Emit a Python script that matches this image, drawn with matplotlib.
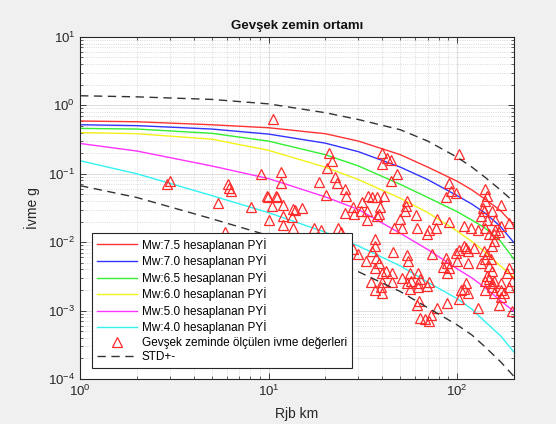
import numpy as np
import matplotlib
matplotlib.use('Agg')
import matplotlib.pyplot as plt
from matplotlib.ticker import LogLocator, LogFormatterMathtext, NullFormatter

plt.rcParams['font.family'] = ['Liberation Sans', 'DejaVu Sans']
plt.rcParams['mathtext.fontset'] = 'custom'
plt.rcParams['mathtext.rm'] = 'Liberation Sans'
plt.rcParams['mathtext.it'] = 'Liberation Sans'

# mesafe noktalari (km)
rjb = [1, 2, 5, 10, 20, 30, 50, 70, 100, 120, 140, 170, 200]

# hesaplanan PYI egrileri (g)
pga_75 = [0.59, 0.575, 0.52, 0.47, 0.385, 0.30, 0.19, 0.125, 0.078, 0.058, 0.043, 0.029, 0.018]
pga_70 = [0.52, 0.505, 0.45, 0.38, 0.28, 0.21, 0.125, 0.082, 0.048, 0.036, 0.027, 0.017, 0.0099]
pga_65 = [0.46, 0.45, 0.39, 0.30, 0.19, 0.13, 0.07, 0.045, 0.028, 0.021, 0.0163, 0.0104, 0.0057]
pga_60 = [0.40, 0.385, 0.32, 0.22, 0.125, 0.082, 0.044, 0.027, 0.0146, 0.0102, 0.0073, 0.0045, 0.0031]
pga_50 = [0.277, 0.215, 0.13, 0.085, 0.046, 0.030, 0.0135, 0.0078, 0.0041, 0.0030, 0.0022, 0.0014, 0.00098]
pga_40 = [0.155, 0.10, 0.048, 0.027, 0.014, 0.0088, 0.0045, 0.0026, 0.0015, 0.00105, 0.0007, 0.00043, 0.00025]
std_ust = [1.38, 1.33, 1.22, 1.05, 0.78, 0.62, 0.44, 0.30, 0.175, 0.125, 0.090, 0.058, 0.039]
std_alt = [0.067, 0.045, 0.022, 0.0125, 0.0062, 0.0037, 0.0019, 0.0011, 0.00062, 0.00044, 0.0003, 0.00018, 0.00011]

# olculen ivme degerleri
rjb_obs = [2.9, 3.0, 6.1, 6.2, 6.3, 5.4, 9.1, 10.6, 11.6, 11.7, 9.8, 10.9, 8.1, 10.4, 11.9,
           13.5, 10.0, 11.9, 13.5, 5.9, 9.9, 11.1, 13.8, 15.1, 11.9, 13.3, 17.5, 18.9,
           21, 21.7, 20.5, 18.6, 22.6, 23.1, 25.3, 25.9, 20.3, 28, 31.3, 31, 33.6, 35.3,
           37.5, 40.9, 33.2, 39, 37.5, 40, 42.5, 44.6, 40, 48, 44.6, 23.4, 24.3, 25.3,
           28.5, 33.2, 38.6, 46.5, 51, 53.6, 54, 53, 60.7, 50, 78, 91, 109, 61, 71, 77,
           69, 119, 130, 140, 157, 189,
           102, 91, 93, 99, 87, 140, 144, 140, 171, 153, 139, 134, 144, 160, 171, 137,
           160, 167,
           147, 157, 153, 144, 151, 147, 153, 144, 140, 153, 195, 189, 184, 172, 171,
           109, 111, 105, 114, 102, 88, 78, 63, 130, 167, 195, 64, 68, 73, 71, 61,
           46, 54, 55, 74, 87, 89, 91, 99, 102, 109, 112, 115, 123, 100, 114, 139, 140,
           147, 157, 134, 140, 153, 157, 189, 177, 172, 89, 71, 62, 64, 54, 56, 62, 45,
           51, 40, 40, 39.5, 45, 84, 57, 62, 69, 56,
           28, 30, 36.5, 36.5, 35.3, 37, 33, 36.5, 38.6, 35, 36.5, 40, 42]
pga_obs = [0.072, 0.079, 0.072, 0.062, 0.056, 0.038, 0.10, 0.63, 0.107, 0.074, 0.048, 0.048,
           0.033, 0.034, 0.035, 0.031, 0.021, 0.018, 0.016, 0.014, 0.046, 0.045, 0.030,
           0.032, 0.024, 0.023, 0.016, 0.015,
           0.20, 0.155, 0.12, 0.076, 0.090, 0.074, 0.060, 0.048, 0.049, 0.033, 0.039,
           0.029, 0.048, 0.045, 0.045, 0.048, 0.029, 0.033, 0.024, 0.20, 0.17, 0.16,
           0.14, 0.10, 0.079, 0.016, 0.014, 0.027, 0.026, 0.021, 0.026, 0.016, 0.016,
           0.034, 0.040, 0.029, 0.025, 0.022, 0.022, 0.020, 0.017, 0.016, 0.015, 0.016,
           0.013, 0.016, 0.015, 0.016, 0.013, 0.019,
           0.196, 0.074, 0.056, 0.053, 0.045, 0.060, 0.048, 0.040, 0.035, 0.029, 0.029,
           0.024, 0.021, 0.021, 0.017, 0.032, 0.015, 0.014,
           0.0133, 0.0105, 0.0089, 0.0068, 0.0057, 0.0045, 0.0038, 0.0032, 0.0027, 0.0025,
           0.0027, 0.0042, 0.0036, 0.0020, 0.0016,
           0.0021, 0.0025, 0.0020, 0.0018, 0.0015, 0.0013, 0.0011, 0.0014, 0.0011, 0.0012,
           0.0010, 0.00079, 0.00076, 0.00085, 0.00071, 0.0012,
           0.0073, 0.0064, 0.0054, 0.0068, 0.0059, 0.0049, 0.0042, 0.0070, 0.0078, 0.0089,
           0.0083, 0.0075, 0.0083, 0.0054, 0.0050, 0.0075, 0.0056, 0.0029, 0.0027, 0.0049,
           0.0020, 0.0022, 0.0018, 0.0022, 0.0018, 0.0025, 0.0035, 0.0026, 0.0036, 0.0029,
           0.0025, 0.0021, 0.0025, 0.0035, 0.0030, 0.0035, 0.0026, 0.0022, 0.0026, 0.0043,
           0.0027, 0.0022, 0.0023, 0.0036,
           0.0080, 0.0068, 0.0112, 0.0089, 0.0075, 0.0059, 0.0054, 0.0042, 0.0049, 0.0026,
           0.0020, 0.0018, 0.0038]

etiketler = ['Mw:7.5 hesaplanan PYİ', 'Mw:7.0 hesaplanan PYİ', 'Mw:6.5 hesaplanan PYİ',
             'Mw:6.0 hesaplanan PYİ', 'Mw:5.0 hesaplanan PYİ', 'Mw:4.0 hesaplanan PYİ']
renkler = ['#ff3333', '#3333ff', '#33ee33', '#f2f21a', '#ff33ff', '#33f2f2']

fig = plt.figure(figsize=(5.56, 4.24), dpi=100, facecolor='#f0f0f0')
ax = fig.add_axes([0.144, 0.106, 0.780, 0.807])
ax.set_facecolor('white')

for seri, renk, etiket in zip([pga_75, pga_70, pga_65, pga_60, pga_50, pga_40], renkler, etiketler):
    ax.plot(rjb, seri, color=renk, lw=1.0, label=etiket)

ax.plot(rjb_obs, pga_obs, '^', mfc='none', mec='#ff2a2a', ms=6.5, mew=0.9,
        label='Gevşek zeminde ölçülen ivme değerleri')
ax.plot(rjb, std_ust, '--', color='#333333', lw=1.0, dashes=(6, 4), label='STD+-')
ax.plot(rjb, std_alt, '--', color='#333333', lw=1.0, dashes=(6, 4))

ax.set_xscale('log')
ax.set_yscale('log')
ax.set_xlim(1, 200)
ax.set_ylim(1e-4, 10)

for axis in [ax.xaxis, ax.yaxis]:
    axis.set_major_locator(LogLocator(base=10))
    axis.set_minor_locator(LogLocator(base=10, subs=np.arange(2, 10)))
    axis.set_major_formatter(LogFormatterMathtext())
    axis.set_minor_formatter(NullFormatter())

ax.grid(True, which='major', color='#d8d8d8', lw=0.6, linestyle='-')
ax.grid(True, which='minor', color='#cfcfcf', lw=0.6, linestyle=':')
ax.set_axisbelow(True)

ax.tick_params(which='both', direction='in', top=True, right=True, colors='#262626',
               labelsize=9.5)
ax.tick_params(which='major', length=4, width=0.6)
ax.tick_params(which='minor', length=2, width=0.5)
for sp in ax.spines.values():
    sp.set_color('#262626')
    sp.set_linewidth(0.8)

ax.set_title('Gevşek zemin ortamı', fontsize=9.5, fontweight='bold', color='#111111', pad=6)
ax.set_xlabel('Rjb km', fontsize=10, color='#262626', labelpad=6)
ax.set_ylabel('İvme g', fontsize=10, color='#262626', labelpad=6)

leg = ax.legend(loc='lower left', bbox_to_anchor=(0.028, 0.032), borderaxespad=0,
                fontsize=8.5, fancybox=False, edgecolor='#262626', framealpha=1,
                handlelength=3.4, labelspacing=0.22, borderpad=0.4, handletextpad=0.4)
leg.get_frame().set_linewidth(0.8)

plt.savefig('out.png', dpi=100, facecolor=fig.get_facecolor())
